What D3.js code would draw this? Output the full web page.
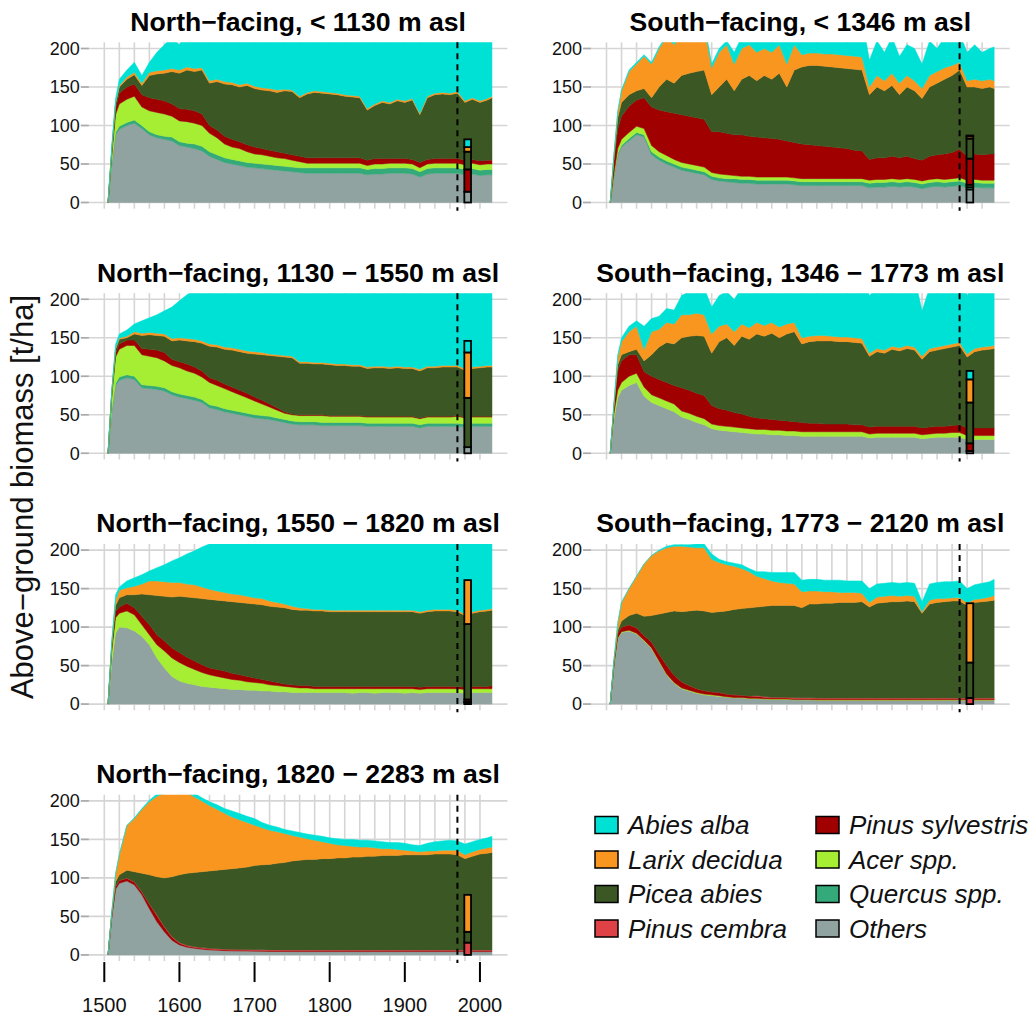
<!DOCTYPE html>
<html>
<head>
<meta charset="utf-8">
<script src="https://cdn.jsdelivr.net/npm/d3@7"></script>
<style>
  body { margin: 0; background: #fff; }
  svg { display: block; font-family: "Liberation Sans", Arial, Helvetica, sans-serif; }
</style>
</head>
<body>
<svg id="chart" width="1036" height="1019"></svg>
<script>
// Simulation years (x values shared by all panels)
const years = [1505,1510,1515,1520,1530,1540,1550,1560,1570,1580,1590,1600,1610,1620,1630,1640,1650,1660,1670,1680,
  1690,1700,1710,1720,1730,1740,1750,1760,1770,1780,1790,1800,1810,1820,1830,1840,1850,1860,1870,1880,
  1890,1900,1910,1920,1930,1940,1950,1960,1970,1980,1990,2000,2010,2016];

// Species, stacked from the bottom up
const speciesKeys = ["others","quercus","acer","psylv","cembra","picea","larix","abies"];
const speciesLabels = {abies:"Abies alba", larix:"Larix decidua", picea:"Picea abies", cembra:"Pinus cembra",
  psylv:"Pinus sylvestris", acer:"Acer spp.", quercus:"Quercus spp.", others:"Others"};
const speciesColors = {abies:"#00e1d6", larix:"#f8961f", picea:"#3b5724", cembra:"#df4246",
  psylv:"#a10000", acer:"#a5ee33", quercus:"#34a97a", others:"#91a3a0"};
const legendOrder = ["abies","larix","picea","cembra","psylv","acer","quercus","others"];

// ---- North-facing, < 1130 m asl (biomass, t/ha)
const n1Others = [0,50,88,95,100,103,96,88,84,82,80,74,72,70,67,60,56,52,50,48,46,45,44,43,42,41,40,39,38,38,38,38,38,38,38,38,36,37,37,38,38,38,37,33,37,38,38,38,38,36,37,35,36,36];
const n1Quercus = [0,2,3,4,4,4,4,4,4,4,5,5,5,6,6,6,6,6,6,6,6,6,6,6,6,6,6,6,7,7,7,7,7,7,7,7,7,7,7,7,7,7,7,7,7,7,7,7,7,7,7,7,7,7];
const n1Acer = [0,10,23,29,30,31,24,27,29,29,27,27,28,27,27,24,22,18,16,16,14,12,12,11,10,10,9,8,6,6,6,6,6,6,6,6,5,6,6,6,6,6,6,5,6,6,6,6,6,6,7,7,7,7];
const n1Sylvestris = [0,4,8,14,16,16,16,17,17,17,16,16,16,16,15,10,10,10,10,9,9,9,8,8,8,7,7,7,7,7,7,7,7,7,7,7,7,7,7,6,6,6,6,7,6,6,6,6,6,6,5,5,5,5];
const n1Picea = [0,3,6,8,10,12,12,29,33,36,42,46,51,51,57,55,63,68,71,71,77,76,76,77,77,81,82,76,83,85,84,83,82,80,79,78,65,69,73,71,75,73,77,62,80,83,84,83,85,75,78,76,78,81];
const n1Larix = [0,1,2,2,3,3,3,4,4,4,4,4,4,4,3,3,3,3,3,3,3,3,3,3,3,2,2,2,2,2,2,2,2,2,2,2,2,2,2,2,2,2,2,2,2,2,2,2,2,2,2,2,2,2];
const n1Abies = [0,5,5,8,9,13,10,13,24,33,40,33,46,54,57,78,80,85,88,92,94,97,100,102,104,103,105,110,108,107,108,110,111,112,113,114,125,122,119,121,118,120,117,130,116,113,112,113,112,118,115,118,116,114];
const n1Observed = [14,0,0,29,0,23,6,10];

// ---- South-facing, < 1346 m asl
const s1Others = [0,35,62,72,80,88,85,62,55,50,46,42,40,38,36,30,28,27,26,25,25,24,24,24,24,24,23,22,22,22,22,22,22,22,22,22,19,20,20,21,20,21,20,18,20,21,20,21,22,19,20,19,19,19];
const s1Quercus = [0,1,2,2,3,3,3,4,4,4,4,4,4,4,4,4,4,4,5,5,5,5,5,5,5,5,5,5,5,5,5,5,5,5,5,5,6,6,6,6,6,6,6,6,6,6,6,6,6,6,6,6,6,6];
const s1Acer = [0,2,6,8,8,8,8,8,7,7,6,6,6,6,6,5,5,5,4,4,4,4,4,4,4,4,4,4,4,4,4,4,4,4,4,4,4,4,4,4,4,4,4,4,4,4,4,4,4,4,4,4,4,4];
const s1Sylvestris = [0,17,25,30,34,34,40,50,54,57,60,62,62,62,62,53,55,54,53,54,52,52,51,50,49,47,46,45,44,43,42,41,40,39,37,36,27,28,28,29,28,29,27,27,30,31,33,34,37,31,33,33,34,34];
const s1Picea = [0,5,15,18,15,12,12,12,30,42,39,51,56,60,64,48,58,70,57,72,79,73,81,77,86,70,94,100,103,104,104,104,104,104,105,105,84,92,87,92,82,90,88,80,90,93,97,100,103,90,87,86,87,85];
const s1Larix = [0,2,8,15,30,35,42,44,50,55,50,55,57,50,58,35,45,45,35,40,40,37,35,35,37,30,33,16,16,16,16,17,17,17,17,17,10,15,13,16,15,15,13,13,15,15,15,13,10,8,10,10,10,10];
const s1Abies = [0,0,0,1,2,2,2,2,2,2,2,2,3,5,5,5,5,5,15,15,20,25,30,30,35,35,35,48,46,46,47,47,48,49,50,51,35,45,37,47,35,40,42,32,45,30,40,32,38,37,45,37,40,44];
const s1Observed = [17,3,3,34,0,26,3,1];

// ---- North-facing, 1130 - 1550 m asl
const n2Others = [0,55,88,95,98,96,85,84,83,81,76,73,71,69,66,59,57,54,52,50,48,46,45,44,42,40,38,37,37,37,36,36,36,36,36,36,35,35,35,35,35,35,35,33,35,35,35,35,35,34,35,35,35,35];
const n2Quercus = [0,2,3,4,4,4,4,4,4,4,4,4,4,4,4,4,4,4,4,4,4,4,4,4,4,4,4,4,4,4,4,4,4,4,4,4,4,4,4,4,4,4,4,4,4,4,4,4,4,4,4,4,4,4];
const n2Acer = [0,18,34,36,38,40,39,38,37,35,34,34,32,31,29,29,27,26,24,22,20,18,15,12,10,8,8,8,8,8,9,8,8,8,8,8,8,8,8,8,8,8,8,8,8,8,8,8,9,8,8,8,8,8];
const n2Sylvestris = [0,3,5,7,7,7,8,9,10,11,8,8,9,8,8,6,7,6,6,6,6,5,5,4,3,2,1,1,1,1,1,1,1,1,1,1,1,1,1,1,1,1,1,1,1,1,1,1,1,1,1,1,1,1];
const n2Picea = [0,2,5,6,3,8,17,19,19,21,24,28,30,33,36,41,43,45,48,50,52,56,59,63,67,71,73,67,67,66,66,66,65,65,64,64,62,63,63,62,63,62,62,61,63,63,64,64,63,61,62,63,64,64];
const n2Larix = [0,1,2,2,2,3,3,3,3,3,3,3,3,3,3,3,3,3,3,3,3,3,3,2,2,2,2,2,2,2,2,2,2,2,2,2,2,2,2,2,2,2,2,2,2,2,2,2,2,2,2,2,2,2];
const n2Abies = [0,1,5,5,8,10,16,19,24,30,41,48,57,64,72,80,85,92,95,99,103,106,109,111,112,113,114,121,121,122,122,123,124,124,125,125,128,127,127,128,127,128,128,131,127,127,126,126,126,130,128,127,126,126];
const n2Observed = [8,0,0,0,0,64,59,15];

// ---- South-facing, 1346 - 1773 m asl
const s2Others = [0,45,72,82,88,92,74,66,62,58,54,47,44,40,37,32,30,29,28,27,26,25,25,24,24,23,23,22,22,22,22,22,22,22,22,22,20,21,21,21,21,21,21,19,20,21,21,21,21,18,18,18,18,18];
const s2Acer = [0,7,10,10,12,12,12,10,10,10,10,8,8,8,8,6,6,6,6,6,6,6,6,6,6,6,6,6,6,6,6,6,6,6,6,6,5,5,5,5,5,5,5,5,5,5,5,6,6,5,5,5,5,5];
const s2Sylvestris = [0,8,26,28,28,24,20,24,24,24,24,30,30,30,30,24,22,21,19,18,16,15,14,14,13,13,12,12,11,11,10,10,10,10,9,9,9,9,9,9,9,9,9,9,9,9,9,9,10,10,10,10,10,10];
const s2Picea = [0,2,7,8,4,7,14,28,42,52,54,65,70,75,77,68,87,94,87,101,100,109,107,112,107,113,117,102,106,107,108,108,107,107,107,106,92,97,95,100,98,101,99,89,98,99,101,102,103,92,99,101,102,103];
const s2Larix = [0,3,10,17,26,30,15,30,23,26,26,30,28,29,28,25,20,18,18,16,15,15,14,14,14,13,12,8,7,7,7,6,6,6,6,6,4,4,4,4,4,4,4,4,4,4,4,4,4,4,4,4,4,4];
const s2Abies = [0,1,3,5,7,7,30,17,17,18,18,25,30,33,35,35,40,42,42,47,49,55,54,60,61,67,70,75,78,82,82,83,84,84,85,86,75,79,76,81,88,75,92,59,79,87,90,83,91,76,84,87,91,90];
const s2Observed = [3,0,0,10,0,53,30,11];

// ---- North-facing, 1550 - 1820 m asl
const n3Others = [0,55,92,100,99,95,88,77,60,47,36,30,27,25,23,22,21,20,19,19,18,18,17,17,16,16,15,15,15,15,15,15,15,15,14,15,15,14,15,15,15,14,15,14,15,15,15,15,15,14,15,15,15,15];
const n3Acer = [0,15,20,18,22,21,15,13,17,22,24,24,22,20,18,16,15,14,13,12,11,10,10,8,8,7,7,6,6,5,5,5,5,5,6,5,5,6,5,5,5,6,5,5,5,5,5,5,5,5,5,5,5,5];
const n3Sylvestris = [0,4,8,8,10,9,11,13,13,13,13,13,12,11,10,9,9,9,8,7,7,6,5,5,4,3,3,3,3,3,3,3,3,3,3,3,3,3,3,3,3,3,3,3,3,3,3,3,3,3,3,3,3,4];
const n3Picea = [0,4,8,12,11,17,29,39,51,58,66,73,78,82,86,89,90,91,93,94,95,96,97,97,98,99,98,98,98,98,98,97,97,97,97,97,97,97,97,97,97,97,97,96,97,98,98,98,97,93,95,97,98,98];
const n3Larix = [0,2,7,10,9,11,13,18,19,19,19,18,17,17,15,13,12,11,10,10,9,8,8,7,6,5,4,3,2,2,2,2,2,2,2,2,2,2,2,2,2,2,2,2,2,2,2,2,2,2,2,2,2,2];
const n3Abies = [0,2,7,4,9,11,12,13,17,22,28,32,39,44,52,59,65,70,75,78,82,86,89,94,98,102,107,110,112,114,115,116,118,118,118,118,118,118,118,118,118,118,118,119,118,117,117,117,118,122,120,118,117,116];
const n3Observed = [2,0,1,3,0,98,57,0];

// ---- South-facing, 1773 - 2120 m asl
const s3Others = [0,50,85,93,95,91,82,72,55,38,27,20,17,14,12,11,10,9,8,8,7,7,6.5,6,6,6,5.5,5.5,5.5,5,5,5,5,5,5,5,5,5,5,5,5,5,5,5,5,5,5,5,5,5,5,5,5,5];
const s3Acer = [0,1,1,1,1,1,1,1,1,1,1,1,1,1,1,1,1,0.5,0.5,0.5,0.5,0.5,0.5,0.5,0.5,0.5,0.5,0.5,0.5,0.5,0.5,0.5,0.5,0.5,0.5,0.5,0.5,0.5,0.5,0.5,0.5,0.5,0.5,0.5,0.5,0.5,0.5,0.5,0.5,0.5,0.5,0.5,0.5,0.5];
const s3Sylvestris = [0,2,6,6,7,7,6,7.5,9,11.5,9.5,8,6,5,4.5,4,4,3.5,3.5,3,3,2.5,2,1.3,1.3,1.3,1.3,1.3,1.3,1.3,1.3,1.3,1.3,1.3,1.3,1.3,1.3,1.3,1.3,1.3,1.3,1.3,1.3,1.3,1.3,1.3,1.3,1.3,1.3,1.3,1.3,1.3,1.3,1.3];
const s3Cembra = [0,0,0,0,0,0,0,0,0,0,0,0,0,0,0,0,0,0,0,0,0,1,1,1,1,1,1,1,1,1,1,1,1,1,1,1,1,1,1,1,1,1,1,1,1,1,1,1,1,1,1,1,1,1];
const s3Picea = [0,2,4,8,12,19,25,34.5,52,68.5,83.5,91,97,102,103.5,103,105,108,111,112.5,114.5,115,117,119.2,119.2,119.2,119.7,116.7,121.7,122.2,123.2,123.2,124.2,124.2,124.2,125.2,118.2,123.2,124.2,125.2,125.2,126.2,125.2,110.2,122.2,124.2,125.2,126.2,126.2,120.2,124.2,125.2,126.2,127.2];
const s3Larix = [0,3,9,24,35,48,68,78,82,84,84,85,83,81,82,69,64,60,56,52,47,40,36,32,30,29,28,21,17,17,15,15,13,13,13,11,6,8,8,8,7,7,7,2,5,5,4,4,4,4,4,4,5,6];
const s3Abies = [0,0,0,0,0,0,0,0,1,2,2,2,3,5,5,7,4,4,4,5,4,6,9,11,13,14,15,15,15,15,15,15,16,15,15,16,18,17,17,17,17,17,17,13,21,21,22,21,22,18,19,20,20,21];
const s3Observed = [0,0,0,0,8,46,77,0];

// ---- North-facing, 1820 - 2283 m asl
const n4Others = [0,50,85,93,96,91,78,60,43,30,19,13,10,8.5,7.5,6.5,6,5.5,5.2,5,5,4.8,4.6,4.5,4.4,4.4,4.3,4.3,4.3,4.3,4.3,4.3,4.3,4.3,4.3,4.3,4.3,4.3,4.3,4.3,4.3,4.3,4.3,4.3,4.3,4.3,4.3,4.3,4.3,4.3,4.3,4.3,4.3,4.3];
const n4Sylvestris = [0,1.5,3.5,3.5,3.5,3.5,3.5,6,8,6,4,2,1.5,1,1,1,1,1,1,1,1,1,1,1,1,1,1,1,1,1,1,1,1,1,1,1,1,1,1,1,1,1,1,1,1,1,1,1,1,1,1,1,1,1];
const n4Cembra = [0,0.5,0.5,0.5,0.5,0.5,0.5,0.5,1,1,1,1,1,1,1,1,1,1,1,1,1,1,1,1,1,1,1,1,1,1,1,1,1,1,1,1,1,1,1,1,1,1,1,1,1,1,1,1,1,1,1,1,1,1];
const n4Picea = [0,2,6,7,10,13,24,37.5,49.5,63,77.5,88,93.5,96.5,98.5,100.5,102,103.5,104.8,106,107,109.2,110.4,111,112.6,113.6,115.7,116.7,117.7,117.7,118.7,118.7,119.7,119.7,120.7,120.7,121.7,121.7,122.7,122.7,122.7,123.7,123.7,123.7,123.7,124.7,124.7,124.7,123.7,118.7,121.7,124.7,125.7,126.7];
const n4Larix = [0,2,10,26,58,69,83,95,104.5,110,110.5,108,105,98,92,85,79,73,67,62.5,58,52.5,48,44.5,41,37.7,33,30,27,25,22,20,17,16,14,13,12,11,9,9,8,6,5,4,5,4,5,5,6,5,6,6,7,7];
const n4Abies = [0,0,0,0,0,1,1,2,3,4,5,6,5,5,4,5,6,6,8,8,8,8.5,7,6.5,6,5.3,6,6,6,6.5,7,7,8,8,9,9,9,9,9,8,9,9,8,8,10,12,12,13,12,14,13,13,13,14];
const n4Observed = [0,0,0,0,16,14,48,0];

// Panel titles, in reading order (left column north, right column south)
const panelTitles = [
  "North\u2212facing, < 1130 m asl", "South\u2212facing, < 1346 m asl",
  "North\u2212facing, 1130 \u2212 1550 m asl", "South\u2212facing, 1346 \u2212 1773 m asl",
  "North\u2212facing, 1550 \u2212 1820 m asl", "South\u2212facing, 1773 \u2212 2120 m asl",
  "North\u2212facing, 1820 \u2212 2283 m asl"
];
const yTicks = [0, 50, 100, 150, 200];
const xMajorTicks = [1500, 1600, 1700, 1800, 1900, 2000];
const xGridYears = d3.range(1500, 2001, 20);
const scenarioStart = 1970;           // dashed marker
const inventorySpan = [1979.2, 1988.1]; // observed-inventory bar

const panels = [
  {series:{others:n1Others, quercus:n1Quercus, acer:n1Acer, psylv:n1Sylvestris, picea:n1Picea, larix:n1Larix, abies:n1Abies}, observed:n1Observed},
  {series:{others:s1Others, quercus:s1Quercus, acer:s1Acer, psylv:s1Sylvestris, picea:s1Picea, larix:s1Larix, abies:s1Abies}, observed:s1Observed},
  {series:{others:n2Others, quercus:n2Quercus, acer:n2Acer, psylv:n2Sylvestris, picea:n2Picea, larix:n2Larix, abies:n2Abies}, observed:n2Observed},
  {series:{others:s2Others, acer:s2Acer, psylv:s2Sylvestris, picea:s2Picea, larix:s2Larix, abies:s2Abies}, observed:s2Observed},
  {series:{others:n3Others, acer:n3Acer, psylv:n3Sylvestris, picea:n3Picea, larix:n3Larix, abies:n3Abies}, observed:n3Observed},
  {series:{others:s3Others, acer:s3Acer, psylv:s3Sylvestris, cembra:s3Cembra, picea:s3Picea, larix:s3Larix, abies:s3Abies}, observed:s3Observed},
  {series:{others:n4Others, psylv:n4Sylvestris, cembra:n4Cembra, picea:n4Picea, larix:n4Larix, abies:n4Abies}, observed:n4Observed}
];
panels.forEach((p, i) => p.title = panelTitles[i]);

// ---- layout
const colX1500 = [104.3, 606.5];
const pxPerYear = 0.7513;
const firstZero = 202.5, rowStep = 250.8, pxPerUnit = 0.77;
const gridColor = "#d5d5d5";

const svg = d3.select("#chart");
const defs = svg.append("defs");

panels.forEach((p, idx) => {
  const col = idx % 2, row = Math.floor(idx / 2);
  const x0 = colX1500[col], zero = firstZero + row * rowStep;
  const x = d3.scaleLinear().domain([1500, 2000]).range([x0, x0 + 500 * pxPerYear]);
  const y = d3.scaleLinear().domain([0, 200]).range([zero, zero - 200 * pxPerUnit]);
  const left = x(1479.4), right = x(2036.6), top = y(208), bottom = y(-8);

  const g = svg.append("g");

  // title
  g.append("text").attr("x", (left + right) / 2).attr("y", zero - 171.8)
    .attr("text-anchor", "middle").attr("font-weight", "bold").attr("font-size", 26.6)
    .text(p.title);

  // grid
  g.selectAll(".vg").data(xGridYears).join("line")
    .attr("x1", d => x(d)).attr("x2", d => x(d)).attr("y1", top).attr("y2", bottom)
    .attr("stroke", gridColor).attr("stroke-width", 1.6);
  g.selectAll(".hg").data(yTicks).join("line")
    .attr("x1", left - 8).attr("x2", right).attr("y1", d => y(d)).attr("y2", d => y(d))
    .attr("stroke", gridColor).attr("stroke-width", 1.6);
  g.selectAll(".ht").data(yTicks).join("line")
    .attr("x1", left - 8).attr("x2", left).attr("y1", d => y(d)).attr("y2", d => y(d))
    .attr("stroke", "#aaa").attr("stroke-width", 1.6);
  g.selectAll(".yl").data(yTicks).join("text")
    .attr("x", left - 9).attr("y", d => y(d)).attr("dy", "0.35em")
    .attr("text-anchor", "end").attr("font-size", 18).attr("fill", "#111")
    .text(d => d);

  // stacked areas
  const rows = years.map((yr, i) => {
    const r = {year: yr};
    speciesKeys.forEach(k => r[k] = p.series[k] ? p.series[k][i] : 0);
    return r;
  });
  const stacked = d3.stack().keys(speciesKeys)(rows);
  const clipId = "clip" + idx;
  defs.append("clipPath").attr("id", clipId).append("rect")
    .attr("x", left).attr("y", top).attr("width", right - left).attr("height", bottom - top);
  const area = d3.area().x(d => x(d.data.year)).y0(d => y(d[0])).y1(d => y(d[1]));
  g.append("g").attr("clip-path", `url(#${clipId})`)
    .selectAll("path").data(stacked.filter(s => p.series[s.key])).join("path")
    .attr("d", area)
    .attr("fill", s => speciesColors[s.key])
    .attr("stroke", s => speciesColors[s.key]).attr("stroke-width", 0.5);

  // scenario marker
  g.append("line").attr("x1", x(scenarioStart)).attr("x2", x(scenarioStart))
    .attr("y1", top).attr("y2", bottom + 2)
    .attr("stroke", "#000").attr("stroke-width", 2).attr("stroke-dasharray", "6,5");

  // observed inventory bar
  let cum = 0;
  const segs = [];
  speciesKeys.forEach((k, i) => {
    const v = p.observed[i];
    if (v > 0) { segs.push({k, y0: cum, y1: cum + v}); cum += v; }
  });
  g.selectAll(".obs").data(segs).join("rect")
    .attr("x", x(inventorySpan[0])).attr("width", x(inventorySpan[1]) - x(inventorySpan[0]))
    .attr("y", d => y(d.y1)).attr("height", d => y(d.y0) - y(d.y1))
    .attr("fill", d => speciesColors[d.k]).attr("stroke", "#000").attr("stroke-width", 1.8);

  // year axis under the last panel
  if (idx === panels.length - 1) {
    g.selectAll(".xt").data(xMajorTicks).join("line")
      .attr("x1", d => x(d)).attr("x2", d => x(d)).attr("y1", bottom + 1).attr("y2", bottom + 21)
      .attr("stroke", "#000").attr("stroke-width", 2);
    g.selectAll(".xl").data(xMajorTicks).join("text")
      .attr("x", d => x(d)).attr("y", zero + 57).attr("text-anchor", "middle")
      .attr("font-size", 20).attr("fill", "#111").text(d => d);
  }
});

// y-axis title
svg.append("text").attr("transform", "translate(33,497) rotate(-90)")
  .attr("text-anchor", "middle").attr("font-size", 31).attr("fill", "#111")
  .text("Above\u2212ground biomass [t/ha]");

// legend
const legend = svg.append("g");
legendOrder.forEach((k, i) => {
  const col = Math.floor(i / 4), r = i % 4;
  const sx = [595, 816][col], cy = 825 + r * 34.5;
  legend.append("rect").attr("x", sx).attr("y", cy - 8.5).attr("width", 23).attr("height", 17)
    .attr("fill", speciesColors[k]).attr("stroke", "#000").attr("stroke-width", 1.5);
  legend.append("text").attr("x", sx + 33).attr("y", cy).attr("dy", "0.36em")
    .attr("font-size", 26).attr("font-style", "italic").attr("fill", "#111")
    .text(speciesLabels[k]);
});
</script>
</body>
</html>
